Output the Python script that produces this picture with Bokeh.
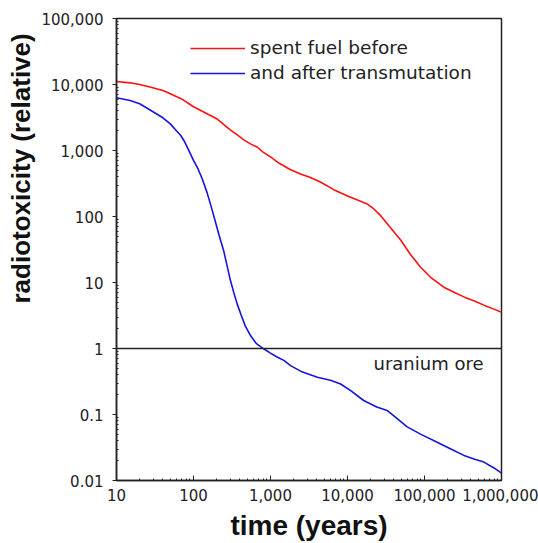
from bokeh.plotting import figure
from bokeh.models import FixedTicker, Span, Label, Legend, LegendItem, Title
from bokeh.embed import file_html
from bokeh.resources import INLINE

# ---- data ----
years_before = [10, 15, 20, 28, 40, 50, 70, 100, 130, 166, 200, 250, 300, 370,
                450, 550, 675, 800, 1000, 1300, 1820, 2500, 3300, 4500, 6650,
                10000, 14000, 18000, 22000, 27000, 36000, 49000, 65000, 89000,
                120000, 178000, 250000, 330000, 437000, 600000, 800000, 1000000]
tox_before = [11100, 10600, 10000, 9100, 8100, 7250, 6050, 4600, 3930, 3400,
              3030, 2450, 2050, 1720, 1450, 1260, 1120, 945, 800, 640, 510, 435,
              390, 330, 255, 205, 175, 155, 130, 103, 68, 44, 27, 17, 12, 8.5,
              7.0, 6.0, 5.3, 4.5, 3.95, 3.55]

years_after = [10, 15, 20, 28, 40, 50, 60, 68, 75, 85, 100, 115, 130, 150, 170,
               190, 215, 246, 270, 302, 340, 370, 410, 470, 550, 650, 815, 1000,
               1200, 1490, 1820, 2500, 4060, 6000, 8140, 11000, 16200, 24000,
               32700, 40000, 59600, 90000, 146000, 220000, 325000, 450000,
               590000, 800000, 1000000]
tox_after = [6300, 5730, 5100, 4040, 3130, 2530, 1990, 1700, 1420, 1060, 710,
             520, 370, 230, 140, 88, 52, 30.6, 19, 10.7, 6.5, 4.7, 3.36, 2.2,
             1.57, 1.2, 0.99, 0.85, 0.75, 0.66, 0.55, 0.45, 0.367, 0.33, 0.29,
             0.23, 0.163, 0.13, 0.115, 0.095, 0.065, 0.05, 0.038, 0.03, 0.024,
             0.021, 0.019, 0.0155, 0.0129]

uranium_ore_level = 1

series_labels = ["spent fuel before", "and after transmutation"]
ore_label = "uranium ore"

x_ticks = [10, 100, 1000, 10000, 100000, 1000000]
x_tick_labels = ["10", "100", "1,000", "10,000", "100,000", "1,000,000"]
y_ticks = [0.01, 0.1, 1, 10, 100, 1000, 10000, 100000]
y_tick_labels = ["0.01", "0.1", "1", "10", "100", "1,000", "10,000", "100,000"]

x_label = "time (years)"
y_label = "radiotoxicity (relative)"

# ---- figure ----
p = figure(width=538, height=543, x_axis_type="log", y_axis_type="log",
           x_range=(x_ticks[0], x_ticks[-1]), y_range=(y_ticks[0], y_ticks[-1]),
           output_backend="svg", toolbar_location=None,
           min_border_left=116, min_border_right=37,
           min_border_top=18, min_border_bottom=63)

p.xgrid.visible = False
p.ygrid.visible = False
p.outline_line_color = "#222222"
p.outline_line_width = 1.5
p.background_fill_color = "white"
p.border_fill_color = "white"

def minors(ticks):
    out = []
    for t in ticks[:-1]:
        out += [t * m for m in range(2, 10)]
    return out

tick_font = "DejaVu Sans"

xa = p.xaxis[0]
xa.ticker = FixedTicker(ticks=x_ticks, minor_ticks=minors(x_ticks))
xa.major_label_overrides = dict(zip(x_ticks, x_tick_labels))
xa.major_tick_in = 5
xa.major_tick_out = 0
xa.minor_tick_in = 2
xa.minor_tick_out = 0
xa.axis_line_color = "#222222"
xa.axis_line_width = 1.5
xa.major_tick_line_color = "#222222"
xa.minor_tick_line_color = "#222222"
xa.major_label_text_font = tick_font
xa.major_label_text_font_size = "15px"
xa.major_label_text_color = "#222222"
xa.major_label_standoff = 8
xa.axis_label = x_label
xa.axis_label_text_font = "Liberation Sans"
xa.axis_label_text_font_style = "bold"
xa.axis_label_text_font_size = "28px"
xa.axis_label_text_color = "#111111"
xa.axis_label_standoff = 6

ya = p.yaxis[0]
ya.ticker = FixedTicker(ticks=y_ticks, minor_ticks=minors(y_ticks))
ya.major_label_overrides = dict(zip(y_ticks, y_tick_labels))
ya.major_tick_in = 0
ya.major_tick_out = 4
ya.minor_tick_in = 2
ya.minor_tick_out = 0
ya.axis_line_color = "#222222"
ya.axis_line_width = 1.5
ya.major_tick_line_color = "#222222"
ya.minor_tick_line_color = "#222222"
ya.major_label_text_font = tick_font
ya.major_label_text_font_size = "15px"
ya.major_label_text_color = "#222222"
ya.major_label_standoff = 9

# y-axis title: sits above the frame centre in the reference
p.add_layout(Title(text=y_label, align="left", offset=177, standoff=5,
                   text_font="Liberation Sans", text_font_style="bold",
                   text_font_size="26px", text_color="#111111"), "left")

# uranium ore reference
p.add_layout(Span(location=uranium_ore_level, dimension="width",
                  line_color="#222222", line_width=1.5))
p.add_layout(Label(x=x_ticks[-1], y=uranium_ore_level, x_offset=-18, y_offset=-15,
                   text=ore_label, text_align="right", text_baseline="alphabetic",
                   text_font=tick_font, text_font_size="18px", text_color="#222222"))

r1 = p.line(years_before, tox_before, line_color="#ff1010", line_width=1.6)
r2 = p.line(years_after, tox_after, line_color="#1414dc", line_width=1.6)

legend = Legend(items=[LegendItem(label=series_labels[0], renderers=[r1]),
                       LegendItem(label=series_labels[1], renderers=[r2])],
                location=(74, 397), border_line_alpha=0, background_fill_alpha=0,
                padding=0, margin=0, spacing=4, glyph_width=55, glyph_height=20,
                label_height=20, label_standoff=5,
                label_text_font=tick_font, label_text_font_size="18.5px",
                label_text_color="#222222")
p.add_layout(legend)

open("out.html", "w").write(file_html(p, INLINE))
